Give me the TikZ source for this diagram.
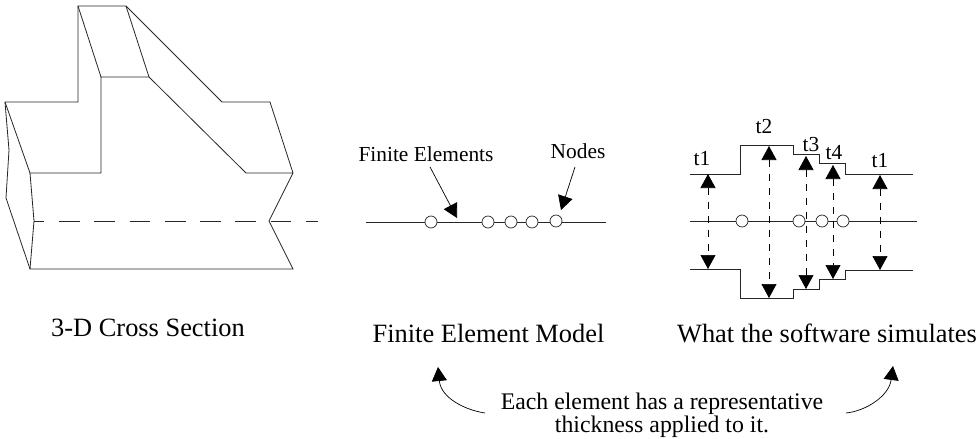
\documentclass[tikz,border=0pt]{standalone}
\usepackage{fontspec}
\setmainfont{Liberation Serif}
\usetikzlibrary{arrows.meta,positioning,calc}
\tikzset{
  thinline/.style={line width=0.8pt, draw=black!85},
  pointer/.style={-{Triangle[length=14pt,width=15pt]}, line width=0.7pt},
  thickarrow/.style={{Triangle[length=14pt,width=15pt]}-{Triangle[length=14pt,width=15pt]}, line width=0.7pt, dash pattern=on 7pt off 7pt},
  elem/.style={circle, draw=black!85, line width=0.7pt, fill=white, minimum size=12pt, inner sep=0pt},
  caption/.style={font=\fontsize{26.4}{28}\selectfont, inner sep=0pt, anchor=base},
  small/.style={font=\fontsize{21.4}{23}\selectfont, inner sep=0pt, anchor=base}
}
\begin{document}
\begin{tikzpicture}[x=1pt,y=-1pt]
\useasboundingbox (0,0) rectangle (978,439);
% cross section
\coordinate (topa) at (78,6);
\coordinate (topb) at (126,6);
\coordinate (stepa) at (101,77);
\coordinate (stepb) at (149,77);
\coordinate (backl) at (5,102);
\coordinate (backm) at (78,102);
\coordinate (backr) at (222,102);
\coordinate (backe) at (270,102);
\coordinate (frontl) at (30,173);
\coordinate (frontm) at (101,173);
\coordinate (frontr) at (246,173);
\coordinate (fronte) at (293,173);
\coordinate (midl) at (34,221);
\coordinate (midr) at (269,221);
\coordinate (botl) at (30,269);
\coordinate (botr) at (293,269);
\coordinate (dashend) at (318,221);
\draw[thinline] (backl) -- (backm) -- (topa) -- (topb) -- (backr) -- (backe) -- (fronte) -- (midr) -- (botr) -- (botl) -- (midl) -- (frontl) -- (frontm) -- (stepa) -- (stepb) -- (frontr) -- (fronte);
\draw[thinline] (topa) -- (stepa);
\draw[thinline] (topb) -- (stepb);
\draw[thinline] (backl) -- (frontl);
\draw[thinline] (backl) -- (9,150) -- (6,198) -- (botl);
\draw[thinline, dash pattern=on 20.7pt off 14.6pt, dash phase=10.4pt] (midl) -- (dashend);
\node[caption] (sec) at (148,336) {3-D Cross Section};
% element model
\coordinate (linel) at (366,222);
\coordinate (liner) at (606,222);
\draw[thinline] (linel) -- (liner);
\node[elem] (n1) at (431,222) {};
\node[elem] (n2) at (488,222) {};
\node[elem] (n3) at (511,222) {};
\node[elem] (n4) at (532,222) {};
\node[elem] (n5) at (556,221) {};
\node[small] (fe) at (426,161) {Finite Elements};
\node[small] (nd) at (578,158) {Nodes};
\coordinate (festart) at (430,167);
\coordinate (ndstart) at (575,167);
\coordinate (fetip) at (457,218);
\coordinate (ndtip) at (561,210);
\draw[pointer] (festart) -- (fetip);
\draw[pointer] (ndstart) -- (ndtip);
\node[caption] (fem) at (488.5,342) {Finite Element Model};
% simulated thickness
\draw[thinline] (690,174) -- (740,174) -- (740,145) -- (793,145) -- (793,154) -- (819,154) -- (819,163) -- (845,163) -- (845,174) -- (913,174);
\draw[thinline] (690,269) -- (740,269) -- (740,298) -- (793,298) -- (793,289) -- (819,289) -- (819,279) -- (845,279) -- (845,270) -- (913,270);
\draw[thinline] (690,221) -- (917,221);
\node[elem] (s1) at (742,221) {};
\node[elem] (s2) at (799,221) {};
\node[elem] (s3) at (822,221) {};
\node[elem] (s4) at (843,221) {};
\coordinate (ta1) at (708,174); \coordinate (tb1) at (708,269);
\coordinate (ta2) at (769,146); \coordinate (tb2) at (769,298);
\coordinate (ta3) at (806,156); \coordinate (tb3) at (806,289);
\coordinate (ta4) at (833,165); \coordinate (tb4) at (833,279);
\coordinate (ta5) at (880,175); \coordinate (tb5) at (880,270);
\foreach \i in {1,...,5} {
  \draw[thickarrow] (ta\i) -- (tb\i);
}
\node[small] (t1a) at (702,165) {t1};
\node[small] (t2) at (764,133) {t2};
\node[small] (t3) at (811,151) {t3};
\node[small] (t4) at (834,159) {t4};
\node[small] (t1b) at (880,167) {t1};
\node[caption] (sim) at (827,342) {What the software simulates};
% note
\node[font=\fontsize{23.8}{23}\selectfont, inner sep=0pt, align=center, anchor=base] (note) at (662,432) {Each element has a representative\\thickness applied to it.};
\coordinate (notel) at (485,413);
\coordinate (noter) at (846,413);
\draw[pointer] (notel) .. controls (465,410) and (441,398) .. (438,367);
\draw[pointer] (noter) .. controls (866,411) and (889,396) .. (893,366);
\end{tikzpicture}
\end{document}
